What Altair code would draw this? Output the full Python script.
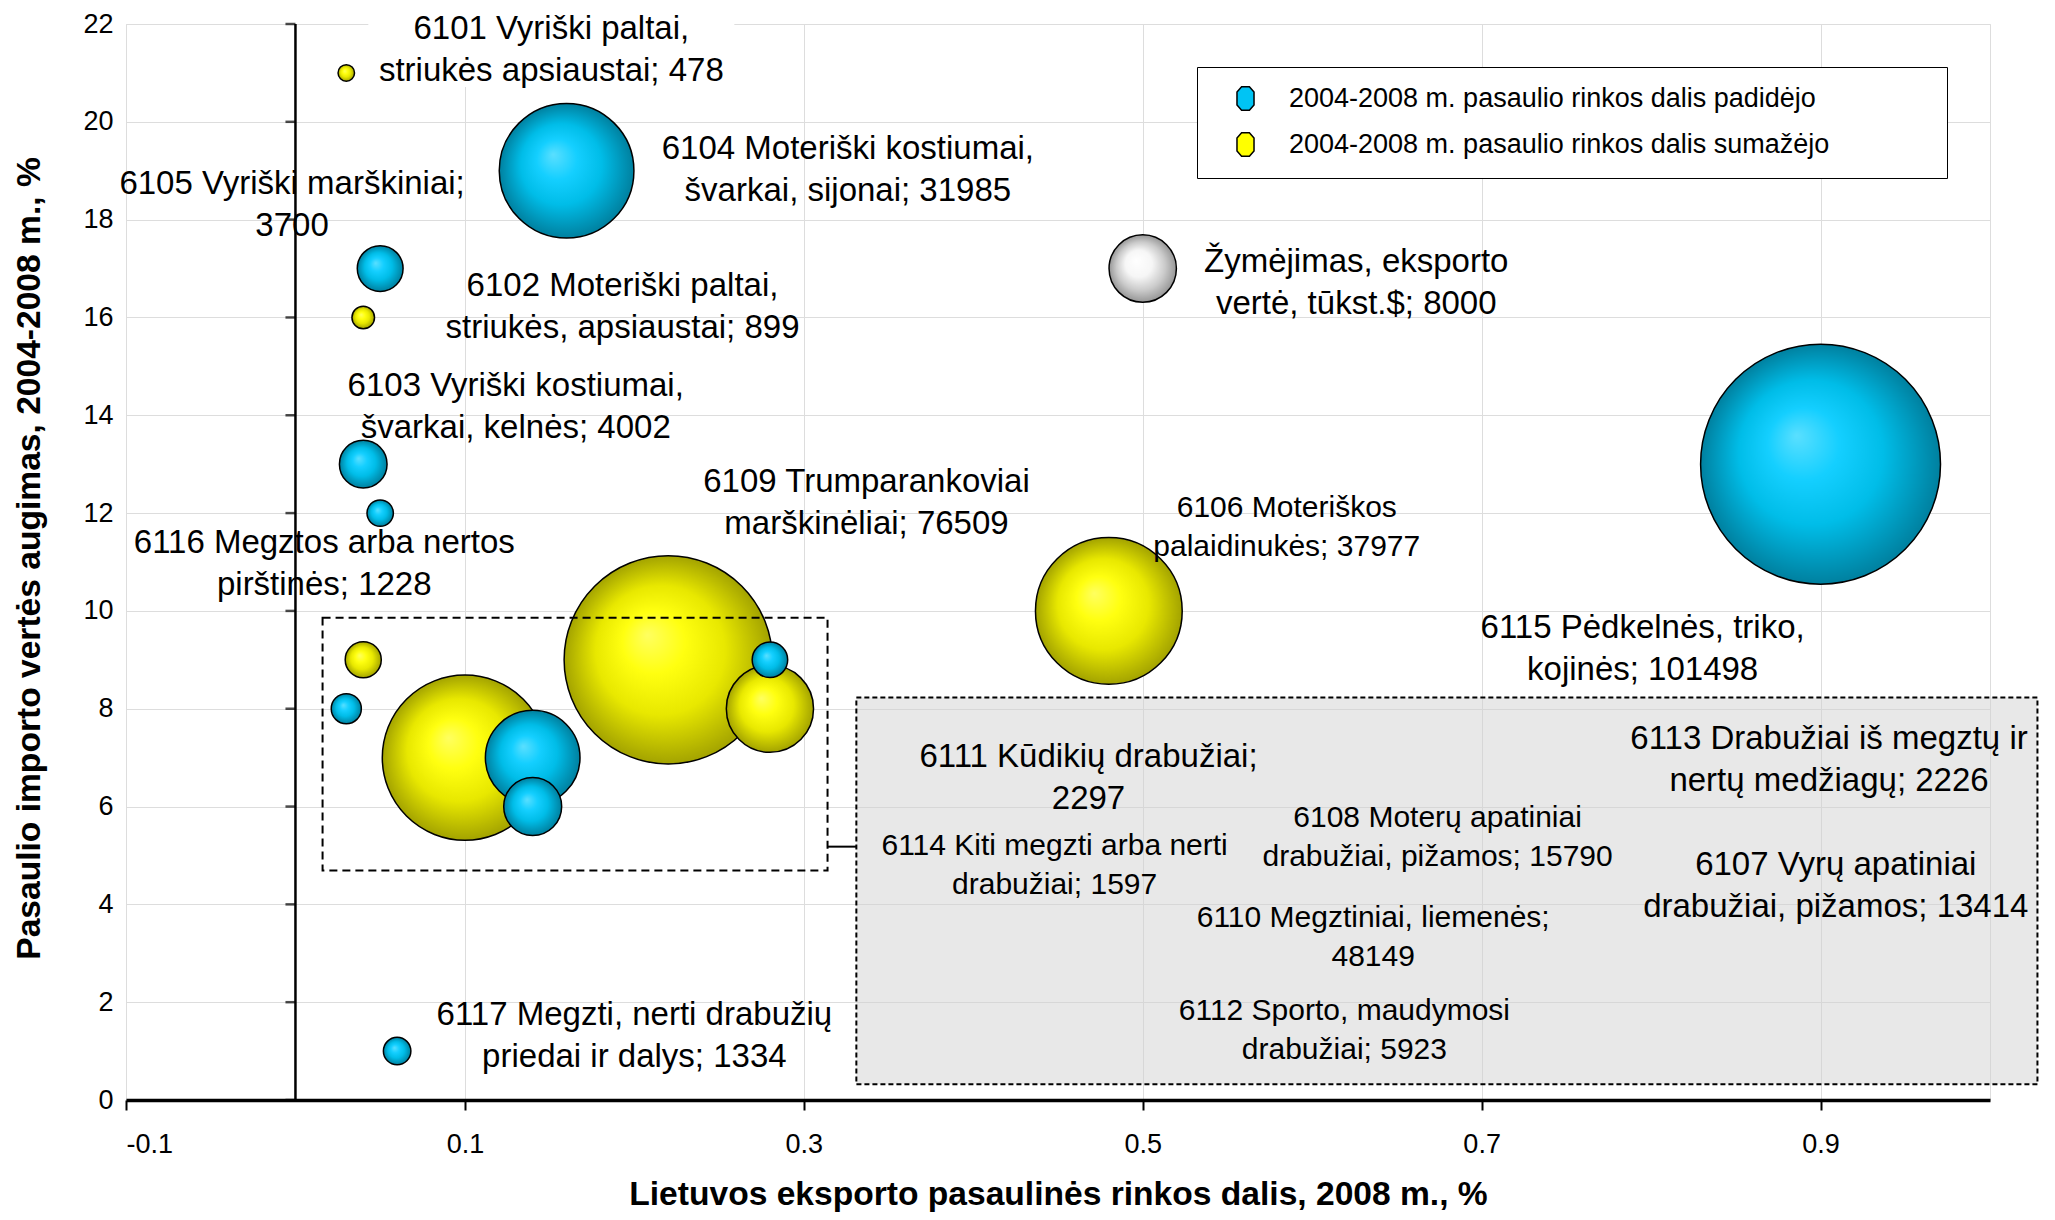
import altair as alt
import pandas as pd

# ---------------- data ----------------
UP = "2004-2008 m. pasaulio rinkos dalis padidėjo"
DOWN = "2004-2008 m. pasaulio rinkos dalis sumažėjo"
KEY = "Žymėjimas"

codes = ["6101", "6102", "6103", "6104", "6105", "6106", "6107", "6108", "6109",
         "6110", "6111", "6112", "6113", "6114", "6115", "6116", "6117", KEY]
share_2008 = [0.03, 0.04, 0.04, 0.16, 0.05, 0.48, 0.28, 0.14, 0.22,
              0.10, 0.04, 0.14, 0.28, 0.03, 0.90, 0.05, 0.06, 0.50]
import_growth = [21, 16, 13, 19, 17, 10, 8, 7, 9,
                 7, 9, 6, 9, 8, 13, 12, 1, 17]
export_value = [478, 899, 4002, 31985, 3700, 37977, 13414, 15790, 76509,
                48149, 2297, 5923, 2226, 1597, 101498, 1228, 1334, 8000]
trend = [DOWN, DOWN, UP, UP, UP, DOWN, DOWN, UP, DOWN,
         DOWN, DOWN, UP, UP, UP, UP, UP, UP, KEY]

label_text = [
    "6101 Vyriški paltai,\nstriukės apsiaustai; 478",
    "6102 Moteriški paltai,\nstriukės, apsiaustai; 899",
    "6103 Vyriški kostiumai,\nšvarkai, kelnės; 4002",
    "6104 Moteriški kostiumai,\nšvarkai, sijonai; 31985",
    "6105 Vyriški marškiniai;\n3700",
    "6106 Moteriškos\npalaidinukės; 37977",
    "6107 Vyrų apatiniai\ndrabužiai, pižamos; 13414",
    "6108 Moterų apatiniai\ndrabužiai, pižamos; 15790",
    "6109 Trumparankoviai\nmarškinėliai; 76509",
    "6110 Megztiniai, liemenės;\n48149",
    "6111 Kūdikių drabužiai;\n2297",
    "6112 Sporto, maudymosi\ndrabužiai; 5923",
    "6113 Drabužiai iš megztų ir\nnertų medžiagų; 2226",
    "6114 Kiti megzti arba nerti\ndrabužiai; 1597",
    "6115 Pėdkelnės, triko,\nkojinės; 101498",
    "6116 Megztos arba nertos\npirštinės; 1228",
    "6117 Megzti, nerti drabužių\npriedai ir dalys; 1334",
    "Žymėjimas, eksporto\nvertė, tūkst.$; 8000",
]
# label anchor positions (centre of each two-line block, data coordinates)
label_x = [0.151, 0.193, 0.130, 0.326, -0.002, 0.585, 0.909, 0.674, 0.337,
           0.636, 0.468, 0.619, 0.905, 0.448, 0.795, 0.017, 0.200, 0.626]
label_y = [21.46, 16.21, 14.17, 19.02, 18.30, 11.71, 4.38, 5.37, 12.20,
           3.32, 6.59, 1.42, 6.95, 4.80, 9.22, 10.95, 1.30, 16.71]
label_group = ["big", "big", "big", "big", "big", "small", "big", "small", "big",
               "small", "big", "small", "big", "small", "big", "big", "big", "big"]

x_ticks = [-0.1, 0.1, 0.3, 0.5, 0.7, 0.9]
y_ticks = [0, 2, 4, 6, 8, 10, 12, 14, 16, 18, 20, 22]

# annotation boxes (data coordinates)
zoom_box = {"x1": [0.016], "x2": [0.314], "y1": [9.86], "y2": [4.69]}
note_box = {"x1": [0.331], "x2": [1.028], "y1": [8.23], "y2": [0.32]}
connector = {"x1": [0.314], "x2": [0.331], "y": [5.18]}
label_bg = {"x1": [0.043], "x2": [0.259], "y1": [22.35], "y2": [20.71]}

# ---------------- tables ----------------
df = pd.DataFrame({"code": codes, "x": share_2008, "y": import_growth,
                   "value": export_value, "trend": trend})
df = df.sort_values("value", ascending=False)
labels = pd.DataFrame({"text": label_text, "x": label_x, "y": label_y, "g": label_group})

FONT = "Liberation Sans"
maxv = max(export_value)
xscale = alt.Scale(domain=[-0.1, 1.0], nice=False, zero=False)
yscale = alt.Scale(domain=[0, 22], nice=False, zero=False)

xaxis = alt.Axis(values=x_ticks, title="Lietuvos eksporto pasaulinės rinkos dalis, 2008 m., %",
                 labelExpr="(datum.value < 0 ? '-' : '') + format(abs(datum.value), '.1f')",
                 grid=True, domain=True, domainColor="black", domainWidth=3.5,
                 ticks=True, tickColor="black", tickWidth=2, tickSize=10,
                 labelPadding=21, labelFontSize=27, labelColor="black",
                 titleFontSize=33.6, titleFontWeight="bold", titleColor="black",
                 titleX=932, titleY=94, titleAlign="center", titleBaseline="middle")
yaxis = alt.Axis(values=y_ticks, title="Pasaulio importo vertės augimas, 2004-2008 m., %",
                 grid=True, domain=False, ticks=False, tickSize=0,
                 labelPadding=13, labelFontSize=27, labelColor="black",
                 titleFontSize=33.6, titleFontWeight="bold", titleColor="black",
                 titleAngle=270, titleX=-97, titleY=534, titleAlign="center",
                 titleBaseline="middle")


def X(field):
    return alt.X(field, type="quantitative", scale=xscale, axis=xaxis)


def Y(field):
    return alt.Y(field, type="quantitative", scale=yscale, axis=yaxis)


def radial(stops):
    return {"gradient": "radial", "x1": 0.4, "y1": 0.38, "r1": 0,
            "x2": 0.5, "y2": 0.5, "r2": 0.5,
            "stops": [{"offset": o, "color": c} for o, c in stops]}


blue_grad = radial([(0, "#5ADFFF"), (0.3, "#14CFFF"), (0.6, "#00BDE8"), (1, "#00809F")])
yellow_grad = radial([(0, "#FFFF60"), (0.3, "#FFFF10"), (0.62, "#E8E800"), (1, "#A3A300")])
white_grad = radial([(0, "#FFFFFF"), (0.4, "#F6F6F6"), (0.72, "#CACACA"), (1, "#969696")])

size_enc = alt.Size("value:Q", scale=alt.Scale(type="linear", domain=[0, maxv],
                                               range=[0, 0.567 * maxv], zero=True),
                    legend=None)

base = alt.Chart(df)

bg_rect = alt.Chart(pd.DataFrame(label_bg)).mark_rect(fill="white").encode(
    x=X("x1"), x2="x2", y=Y("y1"), y2="y2")

gray_box = alt.Chart(pd.DataFrame(note_box)).mark_rect(
    fill="#D2D2D2", fillOpacity=0.5, stroke="black", strokeWidth=2, strokeDash=[5, 3]
).encode(x=X("x1"), x2="x2", y=Y("y1"), y2="y2")


def bubbles(t, grad):
    return base.transform_filter(alt.datum.trend == t).mark_circle(
        fill=grad, fillOpacity=1, opacity=1, stroke="black", strokeWidth=1.5
    ).encode(x=X("x"), y=Y("y"), size=size_enc)


octagon = "M-0.33,-1L0.33,-1L0.72,-0.55L0.72,0.55L0.33,1L-0.33,1L-0.72,0.55L-0.72,-0.55Z"

legend_layer = base.transform_filter(alt.datum.trend != KEY).mark_point(
    filled=True, opacity=0, shape=octagon, stroke="black", strokeWidth=1.5
).encode(
    x=X("x"), y=Y("y"),
    color=alt.Color("trend:N",
                    scale=alt.Scale(domain=[UP, DOWN], range=["#00C4F4", "#FFFF00"]),
                    legend=alt.Legend(orient="none", legendX=1071, legendY=43,
                                      title="\u00a0", titleOrient="right", titlePadding=100,
                                      titleFontSize=10,
                                      labelFontSize=27, labelFont=FONT, labelColor="black",
                                      labelLimit=1000,
                                      symbolType=octagon, symbolSize=560,
                                      symbolStrokeColor="black", symbolStrokeWidth=1.5,
                                      symbolOpacity=1,
                                      symbolOffset=17, labelOffset=30, rowPadding=15,
                                      padding=18, strokeColor="black", fillColor="white",
                                      direction="vertical"))
)

zoom_rect = alt.Chart(pd.DataFrame(zoom_box)).mark_rect(
    fillOpacity=0, stroke="black", strokeWidth=2, strokeDash=[8, 5]
).encode(x=X("x1"), x2="x2", y=Y("y1"), y2="y2")

conn = alt.Chart(pd.DataFrame(connector)).mark_rule(color="black", strokeWidth=2).encode(
    x=X("x1"), x2="x2", y=Y("y"))

yline = alt.Chart(pd.DataFrame({"x": [0], "y": [0], "y2": [22]})).mark_rule(
    color="black", strokeWidth=2.5).encode(x=X("x"), y=Y("y"), y2="y2")

yticks = alt.Chart(pd.DataFrame({"x": [0] * len(y_ticks), "y": y_ticks})).mark_tick(
    orient="horizontal", color="black", thickness=2.5, xOffset=-5
).encode(x=X("x"), y=Y("y"), size=alt.value(10))


def text_layer(group, fs, lh):
    return alt.Chart(labels).transform_filter(alt.datum.g == group).mark_text(
        align="center", baseline="middle", font=FONT, fontSize=fs, lineHeight=lh,
        lineBreak="\n", color="black", dy=-lh / 2
    ).encode(x=X("x"), y=Y("y"), text="text:N")


chart = alt.layer(
    bg_rect, gray_box,
    bubbles(DOWN, yellow_grad), bubbles(UP, blue_grad), bubbles(KEY, white_grad),
    legend_layer,
    zoom_rect, conn, yline, yticks,
    text_layer("big", 33, 42), text_layer("small", 30, 39),
).properties(
    width=1864, height=1076,
    autosize=alt.AutoSizeParams(type="none"),
    padding={"left": 118, "top": 16, "right": 50, "bottom": 112},
).configure_view(
    stroke="#8C8C8C", strokeWidth=1
).configure_axis(
    labelFont=FONT, titleFont=FONT, gridColor="#CDCDCD", gridWidth=1
).configure(background="white")

chart.save("out.html", embed_options={"renderer": "svg", "actions": False})
